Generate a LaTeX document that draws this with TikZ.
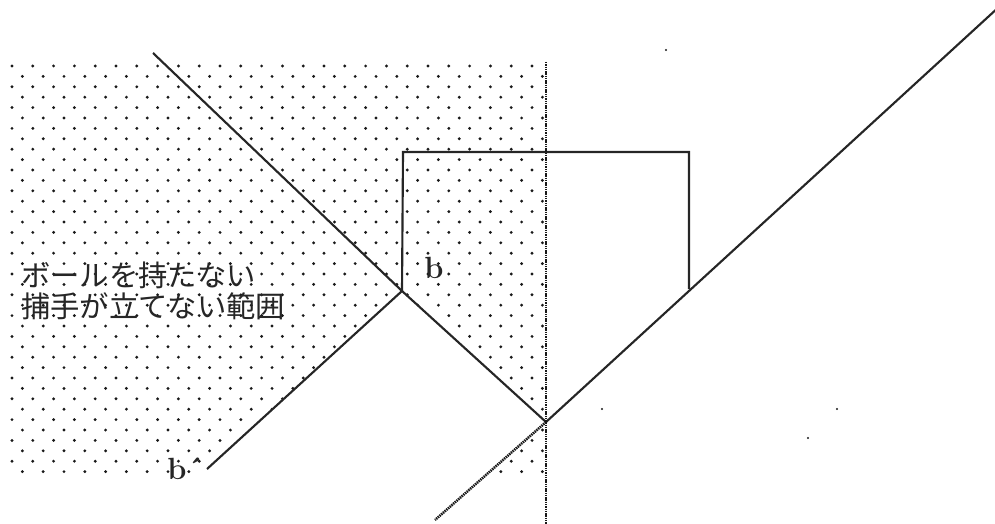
\documentclass[tikz,border=0pt]{standalone}
\usepackage{fontspec}
\newfontfamily\jp{Noto Sans CJK JP}
\begin{document}
\begin{tikzpicture}[x=0.75pt,y=-0.75pt,
  ln/.style={line width=1.6pt, draw=black!85},
  dl/.style={line width=1.9pt, draw=black!90, dash pattern=on 1.1pt off 0.6pt},
  dotf/.style={fill=black!90},
  jpt/.style={font=\fontsize{22}{22}\selectfont\jp, text=black!85, inner sep=0pt, anchor=west},
  lbl/.style={font=\fontsize{23}{23}\selectfont\bfseries, text=black!85, inner sep=0pt}]
\useasboundingbox (0,0) rectangle (995,524);
\coordinate (A) at (153,53);
\coordinate (B) at (402,291);
\coordinate (C) at (546,422);
\coordinate (D) at (1000,6);
\coordinate (Bp) at (207,469);
\coordinate (R1) at (403,152);
\coordinate (R2) at (689,152);
\coordinate (R3) at (689,289);
\coordinate (E) at (435,520);
\coordinate (V1) at (546,62);
\coordinate (V2) at (546,526);
% dotted area
\begin{scope}[even odd rule]
\clip (0,62) rectangle (545,476) (B) -- (C) -- (E) -- (207,560) -- (150,560) -- (Bp) -- cycle;
\foreach \j in {0,...,39}{
  \foreach \i in {0,...,26}{
    \fill[dotf] ({12+20.8*\i+10.4*mod(\j,2)},{66+10.4*\j}) circle[radius=1.2pt];
  }
}
\end{scope}
% lines
\draw[ln] (A) -- (B) -- (C) -- (D);
\draw[ln] (B) -- (Bp);
\draw[ln] (B) -- (R1) -- (R2) -- (R3);
\draw[dl] (V1) -- (V2);
\draw[dl] (C) -- (E);
% stray dots
\fill[dotf] (666,50) circle[radius=0.9pt];
\fill[dotf] (602,409) circle[radius=0.9pt];
\fill[dotf] (837,409) circle[radius=0.9pt];
\fill[dotf] (808,438) circle[radius=0.9pt];
% labels
\node[lbl, anchor=base west] (lb) at (424,278) {b};
\node[lbl, anchor=base west] (lbp) at (167,479) {b\textasciiacute};
\node[jpt] (t1) at (21,275) {ボールを持たない};
\node[jpt] (t2) at (21,306) {捕手が立てない範囲};
\end{tikzpicture}
\end{document}
